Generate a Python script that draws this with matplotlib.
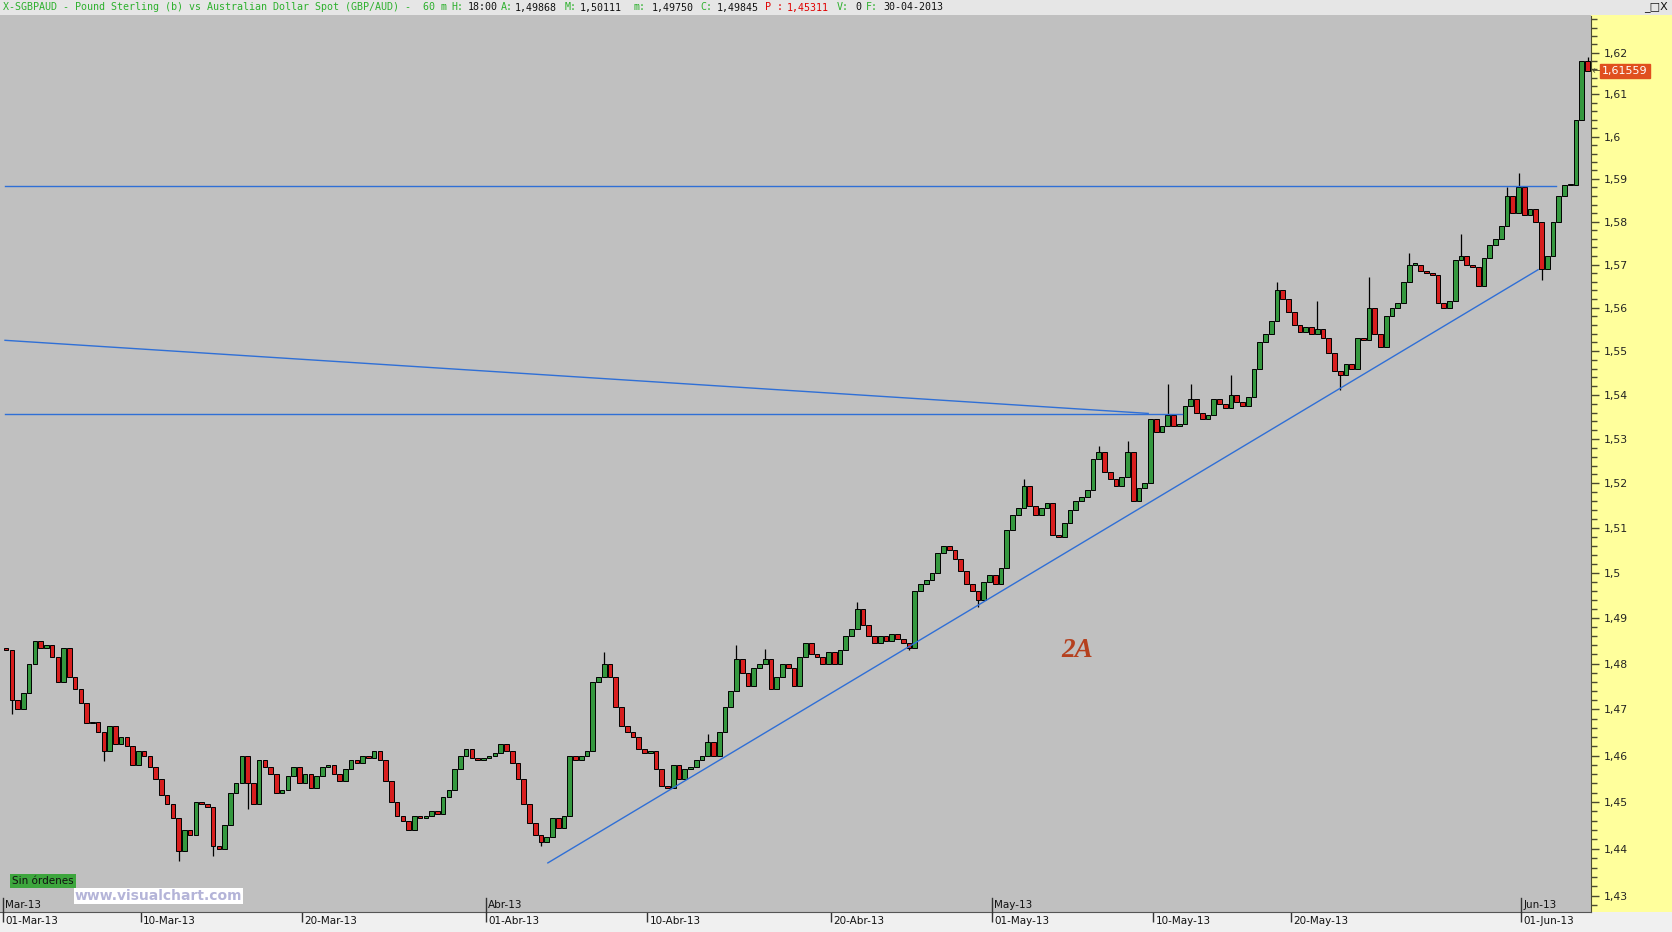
import numpy as np
import matplotlib.pyplot as plt
from matplotlib.ticker import FixedLocator, FuncFormatter, NullFormatter
from matplotlib.transforms import ScaledTranslation, blended_transform_factory

# Datos: velas de 6 horas (4 por día hábil), GBP/AUD, 01-Mar-13 .. 05-Jun-13
bars_per_day = 4
first_open = 1.4834
closes = [
    1.4830, 1.4720, 1.4700, 1.4735, 1.4800, 1.4850, 1.4835, 1.4840, 1.4815, 1.4760,
    1.4835, 1.4770, 1.4745, 1.4715, 1.4670, 1.4672, 1.4650, 1.4610, 1.4665, 1.4625,
    1.4640, 1.4620, 1.4580, 1.4610, 1.4600, 1.4575, 1.4550, 1.4515, 1.4495, 1.4465,
    1.4395, 1.4440, 1.4430, 1.4500, 1.4495, 1.4490, 1.4405, 1.4400, 1.4450, 1.4520,
    1.4540, 1.4600, 1.4540, 1.4495, 1.4590, 1.4575, 1.4560, 1.4520, 1.4525, 1.4555,
    1.4575, 1.4540, 1.4560, 1.4530, 1.4555, 1.4575, 1.4580, 1.4560, 1.4545, 1.4570,
    1.4590, 1.4585, 1.4600, 1.4595, 1.4610, 1.4590, 1.4545, 1.4500, 1.4470, 1.4460,
    1.4440, 1.4470, 1.4465, 1.4470, 1.4480, 1.4475, 1.4510, 1.4525, 1.4570, 1.4600,
    1.4615, 1.4595, 1.4590, 1.4595, 1.4600, 1.4605, 1.4625, 1.4610, 1.4585, 1.4550,
    1.4495, 1.4455, 1.4430, 1.4415, 1.4425, 1.4465, 1.4445, 1.4470, 1.4600, 1.4590,
    1.4600, 1.4610, 1.4760, 1.4770, 1.4800, 1.4770, 1.4705, 1.4665, 1.4650, 1.4640,
    1.4615, 1.4605, 1.4610, 1.4570, 1.4535, 1.4530, 1.4580, 1.4550, 1.4570, 1.4575,
    1.4590, 1.4600, 1.4630, 1.4600, 1.4650, 1.4705, 1.4740, 1.4810, 1.4780, 1.4750,
    1.4790, 1.4800, 1.4810, 1.4745, 1.4770, 1.4800, 1.4790, 1.4750, 1.4815, 1.4845,
    1.4820, 1.4815, 1.4800, 1.4825, 1.4800, 1.4830, 1.4860, 1.4875, 1.4920, 1.4885,
    1.4860, 1.4845, 1.4860, 1.4850, 1.4865, 1.4855, 1.4845, 1.4835, 1.4960, 1.4975,
    1.4985, 1.5000, 1.5045, 1.5060, 1.5050, 1.5030, 1.5005, 1.4975, 1.4960, 1.4940,
    1.4980, 1.4995, 1.4975, 1.5010, 1.5095, 1.5130, 1.5145, 1.5195, 1.5150, 1.5130,
    1.5145, 1.5155, 1.5085, 1.5080, 1.5110, 1.5140, 1.5160, 1.5170, 1.5185, 1.5255,
    1.5270, 1.5225, 1.5210, 1.5195, 1.5215, 1.5270, 1.5160, 1.5190, 1.5200, 1.5345,
    1.5315, 1.5330, 1.5355, 1.5330, 1.5335, 1.5375, 1.5390, 1.5360, 1.5345, 1.5355,
    1.5390, 1.5380, 1.5370, 1.5400, 1.5385, 1.5375, 1.5395, 1.5460, 1.5520, 1.5540,
    1.5570, 1.5640, 1.5620, 1.5590, 1.5560, 1.5545, 1.5555, 1.5540, 1.5550, 1.5530,
    1.5495, 1.5455, 1.5445, 1.5470, 1.5460, 1.5530, 1.5525, 1.5600, 1.5540, 1.5510,
    1.5580, 1.5600, 1.5610, 1.5660, 1.5700, 1.5700, 1.5685, 1.5680, 1.5675, 1.5610,
    1.5600, 1.5615, 1.5710, 1.5720, 1.5700, 1.5695, 1.5650, 1.5715, 1.5745, 1.5760,
    1.5790, 1.5860, 1.5820, 1.5880, 1.5815, 1.5830, 1.5800, 1.5690, 1.5720, 1.5800,
    1.5860, 1.5885, 1.5885, 1.6040, 1.6180, 1.6156,
]

# mechas destacadas (barra, precio extremo)
wick_bars = [1, 17, 30, 36, 42, 93, 104, 122, 127, 132, 148, 157, 169, 177, 190, 195,
             202, 206, 213, 221, 228, 232, 237, 244, 253, 261, 263, 267, 273, 275]
wick_prices = [1.4690, 1.4589, 1.4375, 1.4385, 1.4485, 1.4405, 1.4825, 1.4647, 1.4840,
               1.4832, 1.4935, 1.4830, 1.4925, 1.5210, 1.5284, 1.5295, 1.5425, 1.5425,
               1.5445, 1.5660, 1.5615, 1.5412, 1.5672, 1.5727, 1.5770, 1.5880, 1.5915,
               1.5665, 1.6005, 1.6190]

last_price = 1.61559

# fechas (índice de día hábil)
date_days = [0, 6, 13, 21, 28, 36, 43, 50, 56, 66]
date_labels = ['01-Mar-13', '10-Mar-13', '20-Mar-13', '01-Abr-13', '10-Abr-13',
               '20-Abr-13', '01-May-13', '10-May-13', '20-May-13', '01-Jun-13']
month_days = [0, 21, 43, 66]
month_labels = ['Mar-13', 'Abr-13', 'May-13', 'Jun-13']

# líneas dibujadas (barra inicio, precio inicio, barra fin, precio fin)
lines = [
    (0.3, 1.5884, 270.0, 1.5884),
    (0.3, 1.5356, 205.0, 1.5356),
    (0.3, 1.5525, 199.1, 1.5358),
    (94.7, 1.4370, 266.9, 1.5688),
]

W, H = 1672, 932
fig = plt.figure(figsize=(W / 100, H / 100), dpi=100)
fig.patch.set_facecolor('#C0C0C0')

ax_l, ax_r, ax_t, ax_b = 0, 1591, 16, 912
rect = [ax_l / W, 1 - ax_b / H, (ax_r - ax_l) / W, (ax_b - ax_t) / H]

# panel amarillo del eje de precios
axy = fig.add_axes([ax_r / W, 1 - ax_b / H, 1 - ax_r / W, (ax_b - 15) / H], zorder=0)
axy.set_facecolor('#FFFF9C')
axy.set_xticks([]); axy.set_yticks([])
for s in axy.spines.values():
    s.set_visible(False)

ax = fig.add_axes(rect, zorder=1)
ax.set_facecolor('#C0C0C0')

closes = np.array(closes)
opens = np.concatenate([[first_open], closes[:-1]])
n = len(closes)
x = np.arange(n) + 0.5
highs = np.maximum(opens, closes)
lows = np.minimum(opens, closes)
for b, p in zip(wick_bars, wick_prices):
    if p > highs[b]:
        highs[b] = p
    elif p < lows[b]:
        lows[b] = p

up = closes >= opens
ax.vlines(x, lows, highs, color='black', lw=0.9, zorder=2)
body_b = np.minimum(opens, closes)
body_h = np.maximum(np.abs(closes - opens), 0.0003)
ax.bar(x[up], body_h[up], bottom=body_b[up], width=0.8, color='#35983F',
       edgecolor='black', linewidth=0.7, zorder=3)
ax.bar(x[~up], body_h[~up], bottom=body_b[~up], width=0.8, color='#D81E1E',
       edgecolor='black', linewidth=0.7, zorder=3)

for x0, y0, x1, y1 in lines:
    ax.plot([x0, x1], [y0, y1], color='#2F6FD6', lw=1.0, zorder=4)

ax.set_yscale('log')
ax.set_ylim(1.4266, 1.6288)
ax.set_xlim(-0.57, 276.1)

# eje y a la derecha
major = np.round(np.arange(1.43, 1.6301, 0.01), 2)
minor = np.round(np.arange(1.426, 1.6301, 0.002), 3)
ax.yaxis.tick_right()
ax.yaxis.set_major_locator(FixedLocator(major))
ax.yaxis.set_minor_locator(FixedLocator(minor))
ax.yaxis.set_major_formatter(FuncFormatter(lambda v, p: ('%g' % round(v, 2)).replace('.', ',')))
ax.yaxis.set_minor_formatter(NullFormatter())
ax.tick_params(axis='y', which='major', direction='out', length=6, width=1,
               color='#4A4A30', labelsize=7.8, labelcolor='#222222', pad=3)
ax.tick_params(axis='y', which='minor', direction='out', length=4, width=1, color='#4A4A30')

# eje x con fechas
ax.set_xticks([d * bars_per_day for d in date_days])
ax.set_xticklabels(date_labels)
ax.tick_params(axis='x', direction='out', length=7, width=1, color='#333333',
               labelsize=7.5, labelcolor='#111111', pad=-4)
off = ScaledTranslation(2 / 100, 0, fig.dpi_scale_trans)
for lab in ax.get_xticklabels():
    lab.set_ha('left')
    lab.set_transform(lab.get_transform() + off)

tb = blended_transform_factory(ax.transData, ax.transAxes)
for d, lab in zip(month_days, month_labels):
    xm = d * bars_per_day
    ax.plot([xm, xm], [0, 0.016], color='#333333', lw=1, transform=tb, clip_on=False, zorder=5)
    ax.text(xm, 0.002, lab, transform=tb + off, ha='left', va='bottom',
            fontsize=7.5, color='#111111', zorder=5)

for side in ['top', 'left']:
    ax.spines[side].set_visible(False)
ax.spines['bottom'].set_color('#555555')
ax.spines['right'].set_color('#4A4A30')

# texto 2A
ax.text(186.7, 1.4828, '2A', fontsize=19.5, color='#B5401E', fontweight='bold',
        fontstyle='italic', family='Liberation Serif', ha='center', va='center', zorder=6)

# etiqueta de último precio
ty = blended_transform_factory(ax.transAxes, ax.transData)
ax.text(1.0, last_price, '\u2190', transform=ty, ha='left', va='center', fontsize=8,
        color='#555533', zorder=6, clip_on=False)
ax.text(1.0, last_price, '1,61559', transform=ty + ScaledTranslation(11 / 100, 0, fig.dpi_scale_trans),
        ha='left', va='center', fontsize=8, color='white', zorder=6, clip_on=False,
        bbox=dict(boxstyle='square,pad=0.2', facecolor='#E0501E', edgecolor='#E0501E'))

# franja superior e inferior
fig.patches.append(plt.Rectangle((0, 1 - 15 / H), 1, 15 / H, transform=fig.transFigure,
                                 facecolor='#E6E6E6', edgecolor='none', zorder=-1))
fig.patches.append(plt.Rectangle((0, 0), 1, 1 - ax_b / H, transform=fig.transFigure,
                                 facecolor='#F0F0F0', edgecolor='none', zorder=-1))

header = [
    (3, 'X-SGBPAUD - Pound Sterling (b) vs Australian Dollar Spot (GBP/AUD) -', '#2DB02D'),
    (423, '60 m', '#2DB02D'),
    (451, 'H:', '#2DB02D'), (468, '18:00', '#111111'),
    (501, 'A:', '#2DB02D'), (515, '1,49868', '#111111'),
    (565, 'M:', '#2DB02D'), (580, '1,50111', '#111111'),
    (633, 'm:', '#2DB02D'), (652, '1,49750', '#111111'),
    (700, 'C:', '#2DB02D'), (717, '1,49845', '#111111'),
    (765, 'P :', '#E00000'), (787, '1,45311', '#E00000'),
    (837, 'V:', '#2DB02D'), (855, '0', '#111111'),
    (866, 'F:', '#2DB02D'), (883, '30-04-2013', '#111111'),
]
for px, txt, col in header:
    fig.text(px / W, 1 - 7.5 / H, txt, color=col, fontsize=7.2, family='DejaVu Sans Mono',
             ha='left', va='center')
fig.text(1644 / W, 1 - 7 / H, '_\u25a1X', fontsize=8, color='#111111', ha='left', va='center')

fig.text(12 / W, 1 - 881 / H, 'Sin \u00f3rdenes', fontsize=7.5, color='#111111', ha='left',
         va='center', bbox=dict(boxstyle='square,pad=0.2', facecolor='#3DA63D', edgecolor='none'),
         zorder=10)
fig.text(75 / W, 1 - 896 / H, 'www.visualchart.com', fontsize=10, color='#B4B4D8',
         fontweight='bold', ha='left', va='center',
         bbox=dict(boxstyle='square,pad=0.05', facecolor='white', edgecolor='none'), zorder=10)

fig.savefig('out.png', dpi=100)
